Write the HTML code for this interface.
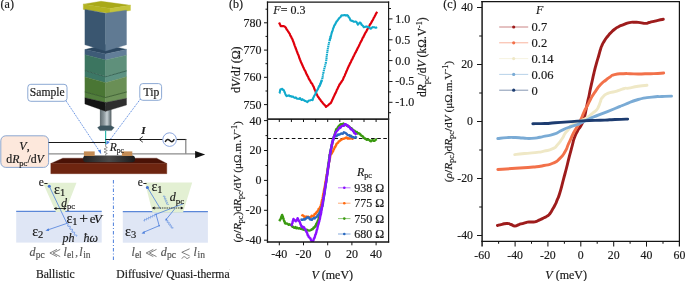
<!DOCTYPE html><html><head><meta charset="utf-8"><style>
html,body{margin:0;padding:0;background:#fff;width:685px;height:281px;overflow:hidden}
svg{display:block;will-change:transform}
text{font-family:"Liberation Serif",serif;fill:#1a1a1a;stroke:#1a1a1a;stroke-width:0.18px}
.t{font-size:12px}
.tc{font-size:11.8px}
.lc{font-size:12.5px}
.i{font-style:italic}
</style></head><body>
<svg width="685" height="281" viewBox="0 0 685 281">

<text x="0.6" y="8.1" style="font-size:12px">(a)</text>
<polygon points="83.3,4.2 101.0,1.3 130.5,5.3 110.0,8.6" fill="#a9a919" stroke="#a9a919" stroke-width="0.35" />
<polygon points="83.3,4.2 110.0,8.6 110.0,13.6 83.3,9.4" fill="#b4b422" stroke="#b4b422" stroke-width="0.35" />
<polygon points="110.0,8.6 130.5,5.3 130.5,10.4 110.0,13.6" fill="#c4c43a" stroke="#c4c43a" stroke-width="0.35" />
<polygon points="84.9,49.6 105.6,44.5 126.5,49.4 105.6,53.9" fill="#2c4761" stroke="#2c4761" stroke-width="0.35" />
<polygon points="84.9,9.4 105.6,13.2 105.6,50.9 84.9,44.8" fill="#3a5670" stroke="#3a5670" stroke-width="0.35" />
<polygon points="105.6,13.2 126.5,10.2 126.5,44.8 105.6,50.9" fill="#607a93" stroke="#607a93" stroke-width="0.35" />
<polygon points="84.9,49.6 105.6,53.9 105.6,60.0 84.9,54.8" fill="#3e5b77" stroke="#3e5b77" stroke-width="0.35" />
<polygon points="105.6,53.9 126.5,49.4 126.5,55.2 105.6,60.0" fill="#627e98" stroke="#627e98" stroke-width="0.35" />
<polygon points="84.9,54.8 105.6,60.0 105.6,76.3 84.9,70.4" fill="#3c7560" stroke="#3c7560" stroke-width="0.35" />
<polygon points="105.6,60.0 126.5,55.2 126.5,70.9 105.6,76.3" fill="#5f907b" stroke="#5f907b" stroke-width="0.35" />
<polygon points="84.9,70.7 105.6,76.8 105.6,82.7 84.9,76.9" fill="#3c7766" stroke="#3c7766" stroke-width="0.35" />
<polygon points="105.6,76.8 126.5,71.0 126.5,76.8 105.6,82.7" fill="#5d9282" stroke="#5d9282" stroke-width="0.35" />
<polygon points="84.9,76.9 105.6,82.7 105.6,97.6 84.9,92.0" fill="#4a7634" stroke="#4a7634" stroke-width="0.35" />
<polygon points="105.6,82.7 126.5,76.8 126.5,92.0 105.6,97.6" fill="#6a8f56" stroke="#6a8f56" stroke-width="0.35" />
<polygon points="84.9,92.0 105.6,97.6 105.6,102.5 84.9,97.8" fill="#527e3c" stroke="#527e3c" stroke-width="0.35" />
<polygon points="105.6,97.6 126.5,92.0 126.5,98.3 105.6,102.5" fill="#6e9359" stroke="#6e9359" stroke-width="0.35" />
<polyline points="84.9,70.6 105.6,76.7 126.5,70.9" fill="none" stroke="#285645" stroke-width="0.8"/>
<polyline points="84.9,92.0 105.6,97.5 126.5,92.0" fill="none" stroke="#34552a" stroke-width="0.8"/>
<defs><linearGradient id="cyl" x1="0" x2="1" y1="0" y2="0">
<stop offset="0" stop-color="#5f6b70"/><stop offset="0.35" stop-color="#8b979c"/><stop offset="0.62" stop-color="#c9d2d6"/><stop offset="0.8" stop-color="#8e9a9f"/><stop offset="1" stop-color="#4d585c"/></linearGradient></defs>
<rect x="99.9" y="106" width="11.5" height="21.5" fill="url(#cyl)"/>
<polygon points="84.9,97.8 105.6,102.5 105.6,111.3 84.9,103.9" fill="#141414" stroke="#141414" stroke-width="0.35" />
<polygon points="105.6,102.5 126.5,98.3 126.5,105.0 105.6,111.3" fill="#2e2e2e" stroke="#2e2e2e" stroke-width="0.35" />
<polygon points="97.6,127.5 100.5,125.8 111.0,125.8 114.2,127.5 111.5,130.6 100.0,130.6" fill="#3e5660" stroke="#3e5660" stroke-width="0.35" />
<line x1="105.6" y1="130.5" x2="105.6" y2="144" stroke="#2fb7aa" stroke-width="1.2"/>
<rect x="27.8" y="84.3" width="39.2" height="17" rx="3" fill="#fff" stroke="#7f9fcf" stroke-width="0.9"/>
<text x="29.8" y="96" style="font-size:11.6px">Sample</text>
<rect x="139.8" y="83.6" width="21.8" height="16.7" rx="3" fill="#fff" stroke="#7f9fcf" stroke-width="0.9"/>
<text x="143.6" y="95.6" style="font-size:11.6px">Tip</text>
<line x1="66" y1="100.8" x2="99.6" y2="151.4" stroke="#4c7fdc" stroke-width="0.9" stroke-dasharray="1.2 0.9"/>
<polygon points="101.2,154.2 97.8,150.4 100.8,149.4" fill="#4c7fdc"/>
<line x1="140.2" y1="99.3" x2="107.6" y2="143" stroke="#4c7fdc" stroke-width="0.9" stroke-dasharray="1.2 0.9"/>
<polygon points="106.2,144.8 106.6,140.6 109.6,142.6" fill="#4c7fdc"/>
<rect x="0.8" y="135.8" width="47.8" height="31.6" rx="5" fill="#fde8dc" stroke="#7f9fcf" stroke-width="0.9"/>
<text x="24.5" y="150" text-anchor="middle" class="i" style="font-size:12px">V<tspan class="" style="font-style:normal">,</tspan></text>
<text x="25" y="163" text-anchor="middle" style="font-size:11.8px">d<tspan class="i">R</tspan><tspan style="font-size:8.5px" dy="2.5">pc</tspan><tspan dy="-2.5">/d</tspan><tspan class="i">V</tspan></text>
<line x1="48.6" y1="142.5" x2="105.5" y2="142.5" stroke="#1a1a1a" stroke-width="1.1"/>
<line x1="105.5" y1="139.5" x2="162.8" y2="139.5" stroke="#1a1a1a" stroke-width="1.1"/>
<line x1="176.4" y1="139.5" x2="186.4" y2="139.5" stroke="#1a1a1a" stroke-width="1.1"/>
<line x1="185.8" y1="139.5" x2="185.8" y2="154" stroke="#808080" stroke-width="1.2"/>
<line x1="48.6" y1="153.9" x2="84.5" y2="153.9" stroke="#8c8c8c" stroke-width="1.4"/>
<line x1="131.5" y1="153.9" x2="196" y2="153.9" stroke="#8c8c8c" stroke-width="1.4"/>
<polygon points="195.1,151.1 205.2,154.6 195.1,158.2" fill="#111"/>
<polyline points="142.8,136.6 139.2,139.4 142.8,142.2" fill="none" stroke="#222" stroke-width="0.9"/>
<text x="141.2" y="134.2" class="i" style="font-size:11.2px;font-weight:bold">I</text>
<circle cx="169.6" cy="139.6" r="6.8" fill="#fff" stroke="#6d8fd6" stroke-width="0.8"/>
<path d="M165.2,142 C166.6,138.8 168.4,139.1 169.8,140.6 C171.2,142.1 172.9,142.3 174.3,139.3" fill="none" stroke="#1a1a1a" stroke-width="1.5"/>
<polygon points="50.8,163.5 62.8,158.2 156.6,158.2 166.8,163.5" fill="#4a1206" stroke="#4a1206" stroke-width="0.35" />
<polygon points="50.8,163.5 166.8,163.5 166.8,173.7 50.8,173.7" fill="#6e2510" stroke="#6e2510" stroke-width="0.35" />
<defs><linearGradient id="disk" x1="0" x2="1" y1="0" y2="0">
<stop offset="0" stop-color="#222"/><stop offset="0.5" stop-color="#4a4a4a"/><stop offset="1" stop-color="#1c1c1c"/></linearGradient></defs>
<rect x="83.1" y="155.5" width="51.9" height="6.8" rx="3" fill="url(#disk)"/>
<rect x="83.9" y="151.4" width="10.8" height="4.6" fill="#c48c55"/>
<rect x="121.9" y="151.4" width="10.4" height="4.6" fill="#c48c55"/>
<polyline points="105.6,144 105.6,146.5 107.3,147.5 104,149 107.3,150.5 104,152 107.3,153.5 105.6,154.2 105.6,155.5" fill="none" stroke="#555" stroke-width="0.6"/>
<text x="109.8" y="150.6" class="i" style="font-size:11.5px">R<tspan style="font-style:normal;font-size:7.5px" dy="2.8">pc</tspan></text>
<rect x="16.2" y="211.2" width="85.5" height="31.4" fill="#dfe6f5"/>
<line x1="16.2" y1="211.3" x2="101.7" y2="211.3" stroke="#5b87d8" stroke-width="1.2"/>
<polygon points="42.9,182.8 76.5,182.8 65.1,212.1 55.9,212.1" fill="#e3f0d3"/>
<circle cx="49.3" cy="186.3" r="1.5" fill="#3f6fd0"/>
<polyline points="49.3,186.3 66.9,223.4" fill="none" stroke="#4c7fdc" stroke-width="0.8"/>
<line x1="66.9" y1="223.4" x2="47" y2="230.2" stroke="#4c7fdc" stroke-width="0.8"/>
<polygon points="45.4,230.8 48.6,228.2 49.2,231" fill="#4c7fdc"/>
<polyline points="66.9,223.4 67.9,223.4 68.3,223.8 68.0,224.7 67.6,225.7 67.9,226.3 68.8,226.3 69.9,226.3 70.4,226.6 70.2,227.4 69.8,228.5 69.9,229.1 70.7,229.3 71.8,229.2 72.5,229.3 72.5,230.1 72.0,231.1 71.9,231.9 72.6,232.2 73.7,232.1 74.5,232.2 74.7,232.8 74.3,233.8 74.0,234.7 74.5,235.1 75.6,235.0 76.5,235.0 76.8,235.5 76.5,236.5" fill="none" stroke="#4c7fdc" stroke-width="0.7"/>
<line x1="54.5" y1="208.5" x2="65.8" y2="208.5" stroke="#111" stroke-width="0.8"/>
<polygon points="53.8,208.5 56.5,206.9 56.5,210.1" fill="#111"/><polygon points="66.5,208.5 63.8,206.9 63.8,210.1" fill="#111"/>
<text x="38.8" y="186" style="font-size:11.5px">e-</text>
<text x="54.1" y="193.8" style="font-size:14px">ε<tspan style="font-size:10.5px" dy="2.2">1</tspan></text>
<text x="61.3" y="206.5" class="i" style="font-size:11.5px">d<tspan style="font-style:normal;font-size:8.5px" dy="2">pc</tspan></text>
<text x="66.4" y="222.9" style="font-size:14px;fill:#111">ε<tspan style="font-size:10.5px" dy="1.8">1</tspan><tspan dy="-1.8" x="79.3" style="font-size:15.5px">+</tspan><tspan x="89.8" style="font-size:13px">e</tspan><tspan x="94" class="i" style="font-size:13px">V</tspan></text>
<text x="32.2" y="235.5" style="font-size:14px">ε<tspan style="font-size:10.5px" dy="2.2">2</tspan></text>
<text x="62.6" y="241.5" class="i" style="font-size:12px">ph</text>
<text x="83.4" y="241.5" class="i" style="font-size:12px">ħω</text>
<g style="fill:#555;stroke:#555"><text x="29.6" y="255.8" class="i" style="font-size:12px;fill:#555;stroke:#555">d</text><text x="35.7" y="258" style="font-size:9.5px;fill:#555;stroke:#555">pc</text><text x="63.4" y="255.8" class="i" style="font-size:12px;fill:#555;stroke:#555">l</text><text x="67" y="258" style="font-size:9.5px;fill:#555;stroke:#555">el</text><text x="75.3" y="256" style="font-size:11px;fill:#555;stroke:#555">,</text><text x="79.3" y="255.8" class="i" style="font-size:12px;fill:#555;stroke:#555">l</text><text x="83.2" y="258" style="font-size:9.5px;fill:#555;stroke:#555">in</text></g>
<path d="M57,249.4 L49.9,253 L57,256.6 M60.2,249.4 L53.1,253 L60.2,256.6" fill="none" stroke="#555" stroke-width="0.75"/>
<text x="36" y="277.9" style="font-size:12.4px" textLength="38.6" lengthAdjust="spacingAndGlyphs">Ballistic</text>
<line x1="113.4" y1="180" x2="113.4" y2="260" stroke="#4c7fdc" stroke-width="1" stroke-dasharray="3.5 2 1 2"/>
<rect x="122.8" y="211.5" width="85.1" height="31.2" fill="#dfe6f5"/>
<line x1="122.8" y1="211.6" x2="207.9" y2="211.6" stroke="#5b87d8" stroke-width="1.2"/>
<polygon points="145,182.5 192.2,182.5 183,212.4 152.5,212.4" fill="#e3f0d3"/>
<circle cx="147.4" cy="187.5" r="1.5" fill="#3f6fd0"/>
<polyline points="147.4,187.4 160.5,209" fill="none" stroke="#4c7fdc" stroke-width="0.8"/>
<polyline points="183.4,203.7 156,214.3 159.2,225.7 142.8,232.6" fill="none" stroke="#4c7fdc" stroke-width="0.8"/>
<polygon points="141.5,233.6 144.4,231 145,233.8" fill="#4c7fdc"/>
<polyline points="175,208.5 166.3,219.3" fill="none" stroke="#4c7fdc" stroke-width="0.8"/>
<circle cx="166.3" cy="219.3" r="0.9" fill="#4c7fdc"/><circle cx="156" cy="214.3" r="0.8" fill="#4c7fdc"/><circle cx="159.2" cy="225.7" r="0.8" fill="#4c7fdc"/>
<polyline points="143.5,220.6 144.1,221.1 144.5,221.1 144.5,220.4 144.5,219.5 144.6,219.0 145.1,219.2 145.7,219.8 146.3,220.2 146.5,219.9 146.5,219.1 146.5,218.3 146.7,218.0 147.3,218.4 148.0,219.0 148.4,219.2 148.6,218.7 148.5,217.8 148.6,217.1 148.9,217.1 149.6,217.6 150.2,218.1 150.5,218.1 150.6,217.4 150.5,216.5 150.7,216.0 151.1,216.2 151.8,216.8 152.4,217.2 152.6,216.9 152.6,216.1 152.6,215.3 152.8,215.0 153.4,215.4 154.0,216.0 154.5,216.2 154.6,215.7 154.6,214.8 154.6,214.1 155.0,214.1 155.6,214.6" fill="none" stroke="#4c7fdc" stroke-width="0.6"/>
<polyline points="166.3,219.8 165.9,220.4 165.9,220.8 166.3,220.8 166.9,220.7 167.6,220.5 168.0,220.6 167.9,221.0 167.6,221.6 167.2,222.2 167.2,222.5 167.5,222.6 168.2,222.4 168.9,222.3 169.3,222.4 169.2,222.7 168.9,223.3 168.5,223.9 168.5,224.3 168.8,224.4 169.5,224.2 170.2,224.0 170.5,224.1 170.5,224.5 170.1,225.1 169.8,225.7 169.7,226.0 170.1,226.1 170.8,226.0 171.5,225.8 171.8,225.9 171.8,226.2 171.4,226.8 171.1,227.4 171.0,227.8 171.4,227.9 172.1,227.7 172.7,227.6 173.1,227.6 173.1,228.0 172.7,228.6" fill="none" stroke="#4c7fdc" stroke-width="0.6"/>
<polyline points="163.8,195.5 163.3,196.0 163.2,196.3 163.5,196.5 164.2,196.4 164.9,196.4 165.2,196.6 165.1,196.9 164.6,197.4 164.1,197.9 164.0,198.2 164.3,198.4 165.0,198.3 165.7,198.3 166.0,198.5 165.9,198.8 165.4,199.3 164.9,199.8 164.8,200.1 165.1,200.3 165.8,200.2 166.5,200.2 166.8,200.4 166.7,200.7 166.2,201.2 165.7,201.7 165.6,202.0 165.9,202.2 166.6,202.2 167.3,202.1 167.6,202.3 167.5,202.6 167.0,203.1 166.5,203.6 166.4,203.9 166.7,204.1 167.4,204.1 168.1,204.0 168.4,204.2 168.3,204.5 167.8,205.0" fill="none" stroke="#4c7fdc" stroke-width="0.6"/>
<line x1="152.7" y1="208" x2="182.8" y2="208" stroke="#111" stroke-width="0.8" stroke-dasharray="1.5 0.8"/>
<polygon points="152,208 154.7,206.4 154.7,209.6" fill="#111"/><polygon points="183.5,208 180.8,206.4 180.8,209.6" fill="#111"/>
<text x="137.8" y="186.3" style="font-size:11.5px">e-</text>
<text x="151.4" y="190.5" style="font-size:14px">ε<tspan style="font-size:10.5px" dy="2.2">1</tspan></text>
<text x="169.8" y="201.4" class="i" style="font-size:12px">d<tspan style="font-style:normal;font-size:9px" dy="2.5">pc</tspan></text>
<text x="125.1" y="235.5" style="font-size:14px">ε<tspan style="font-size:10.5px" dy="2.2">3</tspan></text>
<text x="131.4" y="255.8" class="i" style="font-size:12px;fill:#555;stroke:#555">l</text><text x="134.9" y="258" style="font-size:9.5px;fill:#555;stroke:#555">el</text><text x="160.8" y="255.8" class="i" style="font-size:12px;fill:#555;stroke:#555">d</text><text x="166.9" y="258" style="font-size:9.5px;fill:#555;stroke:#555">pc</text><text x="193.6" y="255.8" class="i" style="font-size:12px;fill:#555;stroke:#555">l</text><text x="197.5" y="258" style="font-size:9.5px;fill:#555;stroke:#555">in</text>
<path d="M153.3,249.4 L146.2,253 L153.3,256.6 M156.5,249.4 L149.4,253 L156.5,256.6" fill="none" stroke="#555" stroke-width="0.75"/>
<path d="M189.6,248.8 L181.8,252.3 L189.6,255.8 M181.8,258.6 C183.2,256.2 185.2,256.4 185.8,257.6 C186.5,258.8 188.3,259 189.6,256.8" fill="none" stroke="#555" stroke-width="0.75"/>
<svg x="0" y="0" width="230" height="281" overflow="hidden"><text x="116.3" y="278.2" style="font-size:12.4px" textLength="116.5" lengthAdjust="spacingAndGlyphs">Diffusive/ Quasi-thermal</text></svg>
<text x="229" y="8.1" style="font-size:12px">(b)</text>
<defs><clipPath id="cbt"><rect x="267.4" y="2" width="121.6" height="117"/></clipPath><clipPath id="cbb"><rect x="267.4" y="119" width="121.6" height="123"/></clipPath></defs>
<g clip-path="url(#cbt)"><polyline points="279.1,22.5 279.6,23.8 280.2,24.8 280.7,26.1 281.8,26.2 282.8,26.0 283.8,26.1 284.9,26.7 285.5,27.3 286.1,28.2 286.7,29.5 287.4,30.2 288.0,31.3 288.6,32.1 289.2,33.1 289.7,33.7 290.1,34.9 290.6,35.9 291.0,36.6 291.5,37.6 291.9,38.5 292.4,39.1 292.8,40.4 293.1,41.3 293.5,42.1 293.8,42.9 294.2,44.3 294.5,45.0 294.9,46.1 295.3,47.1 295.6,48.0 296.0,49.1 296.3,49.7 296.7,50.9 297.1,51.7 297.4,52.9 297.8,53.8 298.1,54.4 298.5,55.3 298.9,56.3 299.2,57.7 299.6,58.4 299.9,59.4 300.3,60.2 300.6,61.2 301.0,62.1 301.4,63.1 301.9,64.1 302.3,65.1 302.8,66.1 303.2,67.0 303.7,68.0 304.1,68.9 304.6,69.9 305.0,70.7 305.5,71.4 305.9,72.7 306.4,73.7 306.8,74.6 307.3,75.4 307.7,76.4 308.2,77.0 308.6,78.3 309.1,79.1 309.5,79.9 310.1,80.7 310.8,82.1 311.4,83.1 312.1,83.6 312.7,85.0 313.1,85.8 313.6,86.6 314.0,87.7 314.4,89.0 314.9,90.0 315.3,90.6 315.7,91.9 316.1,92.7 316.6,94.0 317.0,94.8 317.6,96.0 318.1,96.9 318.7,97.5 319.3,98.6 319.9,99.2 320.4,99.9 321.0,101.0 321.7,101.6 322.4,102.5 323.1,103.4 323.9,104.3 324.6,104.9 325.3,105.7 326.0,106.9 326.8,106.0 327.6,105.7 328.4,105.0 329.2,104.2 330.0,103.6 330.8,103.0 331.2,102.2 331.7,101.2 332.1,100.3 332.5,99.4 332.9,98.7 333.4,97.5 333.8,96.6 334.2,95.8 334.7,94.7 335.1,93.8 335.5,93.2 336.0,92.1 336.4,91.2 336.8,90.0 337.2,89.3 337.7,88.5 338.1,87.3 338.5,86.7 339.0,85.8 339.4,84.6 340.1,83.9 340.7,82.9 341.4,82.0 342.0,80.9 342.7,80.1 343.1,79.1 343.6,77.8 344.0,76.9 344.4,76.2 344.8,75.4 345.3,74.0 345.7,73.2 346.1,72.3 346.5,71.2 347.0,70.2 347.4,69.2 347.8,68.3 348.2,67.4 348.7,66.3 349.1,65.3 349.6,64.6 350.0,63.3 350.5,62.7 350.9,61.9 351.4,60.7 351.8,59.8 352.3,59.2 352.8,58.0 353.2,57.0 353.7,56.2 354.1,55.4 354.6,54.2 355.0,53.4 355.5,52.5 356.0,51.8 356.4,50.7 356.9,50.0 357.4,48.7 357.8,47.9 358.3,47.1 358.7,46.3 359.2,45.2 359.7,44.1 360.1,43.1 360.6,42.4 361.1,41.3 361.5,40.7 362.0,39.8 362.4,38.5 362.9,37.7 363.4,37.0 363.8,36.0 364.3,35.2 364.8,34.0 365.3,33.0 365.8,32.2 366.3,31.6 366.8,30.4 367.3,29.6 367.7,28.7 368.2,27.9 368.7,27.0 369.2,26.3 369.7,25.1 370.2,24.1 370.7,23.7 371.2,22.8 371.7,21.9 372.2,20.8 372.7,20.1 373.2,19.2 373.7,18.0 374.1,17.4 374.6,16.5 375.1,15.5 375.6,14.6 376.1,13.6 376.6,12.7 377.1,11.8" fill="none" stroke="#e0000c" stroke-width="2.2" stroke-linejoin="round"/>
<polyline points="279.4,93.4 279.6,93.2 279.8,92.0 279.9,91.8 280.1,90.1 280.3,90.3 280.5,89.2 281.4,89.2 282.3,88.8 282.8,89.6 283.4,90.1 283.9,90.3 284.4,92.0 284.7,92.1 285.0,93.0 285.4,94.2 285.7,94.8 286.0,95.4 286.8,96.1 287.6,95.8 288.4,95.5 289.2,95.4 290.0,96.2 290.8,96.1 291.5,96.7 292.2,96.5 293.0,96.6 293.9,97.3 294.9,97.9 295.8,97.4 296.7,98.5 297.5,98.8 298.4,98.8 299.2,98.9 300.0,98.1 300.8,99.2 301.6,99.9 302.4,99.2 303.2,99.9 304.0,100.2 304.9,100.9 305.7,101.1 306.5,101.5 307.4,102.2 308.3,100.9 309.1,100.6 310.0,100.4 311.1,100.1 312.2,99.8 312.6,100.1 312.9,99.2 313.3,97.6 313.7,97.3 314.0,96.3 314.4,95.6 314.8,94.9 315.2,94.5 315.5,93.7 315.9,92.6 316.3,91.7 316.7,91.1 317.1,90.2 317.4,90.0 317.8,89.4 318.2,88.3 318.6,87.2 319.0,86.6 319.3,86.1 319.6,85.6 320.0,85.0 320.3,83.7 320.6,83.5 320.9,82.5 321.3,81.5 321.6,80.6 321.9,80.0" fill="none" stroke="#11aacc" stroke-width="2.1" stroke-linejoin="round"/>
<path d="M319.0,87.0 C320.0,84.7 320.4,85.0 321.9,80.0 C323.4,75.0 322.2,77.9 323.5,72.0 C324.8,66.1 324.7,68.2 325.9,62.2 C327.1,56.2 326.2,59.3 327.0,54.0 C327.8,48.7 327.5,50.5 328.3,46.2 C329.1,41.9 328.6,44.6 329.5,41.0 C330.4,37.4 330.5,37.3 331.0,35.5" fill="none" stroke="#11aacc" stroke-width="2.1" stroke-dasharray="1.5 0.55"/>
<polyline points="329.7,40.5 329.9,39.0 330.1,38.9 330.4,38.4 330.6,36.5 330.8,36.1 331.0,35.6 331.2,35.1 331.5,33.6 331.8,32.7 332.0,31.9 332.2,31.6 332.5,30.9 332.8,29.7 333.0,28.8 333.3,28.1 333.7,27.2 334.0,26.5 334.3,25.3 334.7,25.0 335.0,24.8 335.5,23.3 336.0,22.9 336.5,21.4 337.0,21.2 337.5,20.5 338.1,19.7 338.7,18.8 339.3,18.0 339.9,17.5 340.5,17.1 341.2,15.7 342.0,15.2 342.8,15.5 343.5,15.3 344.3,15.0 345.2,15.1 346.0,15.6 346.9,15.1 347.7,15.4 348.2,16.0 348.6,17.2 349.1,17.5 349.6,18.1 350.1,19.4 350.5,20.4 351.0,20.3 351.9,21.0 352.8,20.9 353.6,21.7 354.5,21.7 355.4,21.6 356.3,21.8 356.8,22.4 357.4,23.8 357.9,24.6 358.6,23.6 359.3,23.1 360.0,22.4 360.5,23.5 361.1,23.4 361.6,25.0 362.2,25.0 362.7,25.8 363.3,26.2 363.8,27.3 364.6,27.1 365.4,26.7 366.2,26.4 367.0,26.6 367.8,27.2 368.7,27.1 369.5,27.9 370.4,28.6 371.2,28.5 371.9,27.6 372.7,27.1 373.4,27.2 374.3,27.2 375.2,27.7 376.2,27.7 377.1,27.1" fill="none" stroke="#11aacc" stroke-width="2.1" stroke-linejoin="round"/></g>
<line x1="267.4" y1="138.5" x2="389" y2="138.5" stroke="#111" stroke-width="1.1" stroke-dasharray="3.6 2.5"/>
<g clip-path="url(#cbb)">
<polyline points="279.3,221.3 279.6,220.7 279.9,219.8 280.2,219.7 280.5,219.2 280.9,218.5 281.2,216.9 281.5,216.9 281.8,215.5 282.1,214.9 282.4,216.0 282.6,216.0 282.9,216.8 283.2,218.5 283.5,218.6 283.7,219.5 284.0,220.5 284.3,221.4 284.6,221.4 284.8,222.5 285.1,223.4 286.0,223.7 286.9,223.5 287.8,224.1 288.7,224.8 289.6,224.3 290.3,225.0 291.0,225.0 291.8,225.7 292.5,226.8 293.2,226.6 294.0,227.7 294.8,227.9 295.6,227.1 296.4,228.2 297.2,227.7 298.1,228.4 298.9,228.5 299.7,228.1 300.5,228.7 301.3,228.8 302.1,229.2 302.9,228.7 303.7,229.6 304.4,230.0 305.2,229.9 306.0,230.0 306.8,229.7 307.5,230.4 308.3,230.4 309.2,230.6 310.1,230.4 311.0,230.0 311.9,229.3 312.5,229.3 313.1,228.7 313.6,227.6 314.2,227.8 314.8,227.0 315.4,225.7 315.8,225.9 316.1,224.2 316.5,223.6 316.8,223.3 317.2,222.3 317.6,221.5 317.9,220.8 318.3,219.7 318.6,218.8 319.0,217.8 319.2,216.9 319.4,216.8 319.6,216.0 319.8,215.0 320.0,214.4 320.2,213.1 320.5,212.2 320.7,211.5 320.9,211.2 321.1,209.4 321.3,209.2 321.5,208.0 321.7,207.8 321.9,206.5 322.0,205.6 322.2,204.9 322.3,204.2 322.5,203.7 322.6,202.3 322.8,202.1 322.9,200.4 323.1,199.7 323.2,198.7 323.4,197.9 323.5,197.8 323.7,196.9 323.8,195.5 324.0,194.6 324.1,194.1 324.2,193.7 324.4,193.0 324.5,192.1 324.6,191.1 324.7,189.8 324.8,189.3 325.0,188.2 325.1,187.8 325.2,187.1 325.3,185.8 325.4,185.1 325.6,184.9 325.7,183.2 325.8,183.4 325.9,182.7 326.0,181.9 326.2,180.5 326.3,179.9 326.4,179.1 326.5,178.4 326.6,178.0 326.8,176.8 326.9,175.6 327.0,175.4 327.1,174.2 327.2,173.5 327.3,172.9 327.4,171.2 327.5,171.3 327.6,170.4 327.7,169.4 327.8,168.6 327.9,167.8 328.0,166.6 328.1,166.2 328.2,164.8 328.4,164.6 328.5,164.0 328.6,162.9 328.7,162.3 328.8,162.0 328.9,161.1 329.0,159.4 329.1,159.4 329.2,158.3 329.3,156.9 329.4,156.4 329.5,155.5 329.6,154.5 329.8,154.3 330.0,153.9 330.1,152.4 330.3,152.3 330.5,151.3 330.7,149.8 330.9,149.9 331.0,148.8 331.2,148.4 331.4,147.4 331.6,146.6 331.7,145.3 331.9,145.1 332.1,144.5 332.3,143.6 332.5,142.3 332.6,141.9 332.8,140.8 333.0,139.5 333.2,138.7 333.5,138.0 333.7,137.3 333.9,136.5 334.2,136.2 334.4,135.6 334.6,134.7 334.8,133.8 335.1,133.3 335.3,132.1 335.5,131.5 335.8,131.1 336.0,129.9 336.5,128.9 337.0,129.1 337.5,128.2 338.0,127.1 338.5,126.4 339.0,125.9 339.5,125.3 340.3,124.6 341.1,124.1 341.8,124.1 342.6,124.5 343.4,123.5 344.1,124.2 344.8,124.3 345.5,124.7 346.2,125.1 346.9,125.7 347.6,125.8 348.3,126.0 349.0,126.5 349.7,127.1 350.4,128.1 351.1,128.1 351.8,128.6 352.5,129.6 353.2,130.1 353.9,131.0 354.6,130.7 355.3,131.7 356.1,132.1 356.9,132.0 357.6,133.6 358.4,133.1 359.2,133.3 359.9,134.3 360.5,134.5 361.2,135.7 361.9,135.9 362.5,136.2 363.2,136.7 363.8,138.1 364.5,138.1 365.3,139.1 366.1,139.0 366.9,139.9 367.8,139.5 368.6,139.7 369.4,140.1 370.2,141.1 371.0,141.2 371.9,140.6 372.7,140.1 373.6,140.7 374.4,140.8 375.3,140.2 376.1,139.3 377.0,139.1" fill="none" stroke="#3a9a10" stroke-width="2.4" stroke-linejoin="round"/>
<polyline points="301.4,214.8 302.2,215.3 303.0,215.4 303.7,215.9 304.5,217.1 305.2,217.8 306.1,216.5 307.0,217.1 308.0,216.6 308.9,217.2 309.9,217.5 310.8,217.2 311.6,215.8 312.5,215.9 313.4,215.9 314.0,215.8 314.6,214.1 315.1,213.8 315.7,213.9 316.3,212.4 316.9,212.2 317.3,211.4 317.8,211.0 318.2,210.6 318.6,209.0 319.1,208.9 319.5,208.2 319.9,207.6 320.4,206.5 320.8,206.2 321.0,204.7 321.2,204.0 321.4,203.0 321.6,202.9 321.7,201.7 321.9,200.7 322.1,199.8 322.3,199.7 322.5,198.7 322.6,198.1 322.8,196.9 322.9,196.2 323.1,195.0 323.2,194.9 323.4,193.2 323.5,193.0 323.7,192.5 323.8,191.6 324.0,190.1 324.1,189.5 324.3,189.4 324.4,188.4 324.6,187.9 324.7,187.0 324.9,185.7 325.0,185.5 325.1,184.5 325.3,183.2 325.4,182.4 325.6,181.2 325.7,180.8 325.9,180.7 326.0,178.9 326.1,178.6 326.3,177.2 326.4,176.4 326.6,176.3 326.7,175.0 326.9,173.9 327.0,173.2 327.1,173.0 327.3,172.2 327.4,170.7 327.6,170.1 327.7,170.2 327.9,168.5 328.0,168.1 328.2,167.1 328.3,166.7 328.5,165.7 328.6,165.1 328.8,164.0 328.9,162.8 329.1,161.9 329.2,161.0 329.4,161.1 329.6,159.4 329.7,158.5 329.9,158.8 330.0,157.1 330.2,157.1 330.3,155.3 330.5,155.0 331.1,153.9 331.6,153.9 332.0,152.9 332.4,152.2 332.8,151.6 333.2,150.9 333.6,149.5 334.0,149.1 334.4,148.2 334.8,147.0 335.2,147.1 335.6,146.1 336.0,145.6 336.4,144.1 336.8,143.7 337.5,143.1 338.1,142.8 338.8,141.4 339.5,141.2 340.1,140.7 340.8,139.7 341.4,139.7 342.1,139.3 343.0,138.6 343.9,138.7 344.9,138.3 345.8,137.6 346.7,137.5 347.5,138.6 348.4,138.2 349.2,138.6 350.0,138.5 350.8,138.4 351.6,138.1 352.4,138.7 353.2,138.2 354.0,138.1" fill="none" stroke="#ff6a10" stroke-width="2.4" stroke-linejoin="round"/>
<polyline points="300.6,220.0 301.5,219.5 302.3,219.9 303.1,219.4 304.0,219.3 304.7,219.5 305.3,219.0 306.0,218.5 307.1,217.5 308.1,217.3 308.8,217.5 309.6,218.9 310.3,219.5 311.0,219.4 311.9,219.8 312.8,218.5 313.7,218.1 314.6,218.5 315.4,217.4 316.2,217.1 317.0,216.7 317.6,215.2 318.1,215.3 318.6,214.0 319.2,213.4 319.5,212.5 319.9,212.2 320.2,211.5 320.5,210.1 320.9,209.1 321.2,208.6 321.5,207.9 321.8,206.8 322.2,206.1 322.5,206.0 322.6,205.1 322.8,204.6 322.9,203.8 323.0,202.8 323.2,201.4 323.3,200.3 323.4,199.7 323.6,199.0 323.7,198.3 323.8,197.5 323.9,196.4 324.1,196.2 324.2,194.7 324.3,194.1 324.5,193.8 324.6,192.8 324.7,191.4 324.9,190.5 325.0,190.4 325.1,188.6 325.2,187.9 325.3,187.6 325.5,186.8 325.6,185.5 325.7,184.6 325.8,183.9 325.9,183.8 326.0,182.6 326.1,182.4 326.2,181.3 326.4,180.8 326.5,178.8 326.6,178.2 326.7,177.1 326.8,176.8 326.9,175.9 327.0,174.7 327.2,174.5 327.3,173.1 327.4,172.6 327.5,171.7 327.6,171.6 327.7,170.3 327.9,169.3 328.0,168.2 328.1,167.9 328.2,167.3 328.3,166.5 328.5,166.0 328.6,165.1 328.7,163.6 328.8,162.7 328.9,162.6 329.0,161.8 329.2,160.7 329.3,160.3 329.4,159.1 329.5,158.0 329.6,157.0 329.8,156.0 329.9,156.0 330.0,155.5 330.1,154.7 330.3,153.4 330.4,152.8 330.5,152.3 330.7,151.4 330.8,150.3 330.9,149.3 331.1,148.6 331.2,147.4 331.3,146.6 331.5,146.4 331.6,146.0 331.7,144.7 331.9,143.7 332.0,142.8 332.3,142.1 332.6,141.7 332.8,140.5 333.1,140.3 333.4,138.5 333.6,137.8 333.9,137.3 334.2,136.3 335.0,136.5 335.7,136.2 336.5,136.1 337.2,135.4 338.0,134.4 338.7,134.8 339.5,134.5 340.4,134.1 341.2,133.5 342.1,133.7 343.0,133.6 343.8,132.3 344.7,132.7 345.5,132.9 346.3,133.6 347.1,134.5 347.9,135.1 348.7,135.3 349.5,135.1 350.2,136.3 351.0,135.8 351.7,136.4 352.5,137.4 353.2,137.1 354.0,137.4 354.9,137.8 355.7,137.4 356.6,136.2" fill="none" stroke="#2a6ac0" stroke-width="2.4" stroke-linejoin="round"/>
<polyline points="291.4,226.1 291.7,225.1 291.9,224.1 292.2,223.4 292.4,223.4 292.7,221.4 293.0,220.8 293.2,219.9 293.5,218.9 294.3,219.9 295.0,220.6 295.8,221.2 296.4,220.3 297.0,219.8 297.6,218.2 298.1,219.3 298.6,220.8 299.1,220.5 299.6,221.4 299.9,222.5 300.2,223.1 300.5,224.3 300.8,224.6 301.1,225.7 301.8,226.9 302.5,226.4 303.3,227.7 304.0,227.2 304.7,228.6 305.1,229.0 305.4,229.8 305.8,230.0 306.1,230.7 306.5,232.3 306.9,232.4 307.2,233.2 307.6,234.8 307.9,235.6 308.3,235.5 308.8,237.2 309.3,237.4 309.8,237.9 310.3,238.3 310.7,239.3 311.2,240.7 311.7,240.6 312.2,241.1 312.7,241.8 313.0,241.0 313.3,240.5 313.5,240.4 313.8,238.7 314.1,238.1 314.4,238.2 314.6,237.5 314.9,236.7 315.2,235.1 315.5,234.5 315.7,234.4 316.0,233.1 316.3,232.6 316.5,231.4 316.7,230.2 316.9,229.8 317.1,229.5 317.3,228.7 317.5,227.6 317.7,226.7 317.9,226.0 318.1,225.0 318.3,224.4 318.6,223.9 318.8,222.3 319.0,222.0 319.2,221.6 319.4,220.7 319.6,219.1 319.8,219.2 320.0,218.2 320.2,216.6 320.4,215.9 320.6,215.1 320.8,214.1 320.9,214.4 321.1,212.9 321.2,212.6 321.3,210.9 321.4,210.0 321.6,210.2 321.7,209.4 321.8,208.8 322.0,207.6 322.1,206.6 322.2,206.1 322.4,204.5 322.5,204.2 322.6,203.3 322.8,202.2 322.9,201.9 323.0,200.8 323.1,200.2 323.3,199.2 323.4,198.4 323.5,197.6 323.7,197.1 323.8,196.7 323.9,195.9 324.1,195.0 324.2,194.1 324.3,192.6 324.4,192.7 324.6,191.0 324.7,190.0 324.8,189.6 325.0,189.1 325.1,187.8 325.2,187.4 325.4,186.1 325.5,186.1 325.6,184.7 325.8,183.9 325.9,183.2 326.0,182.8 326.2,182.1 326.3,180.7 326.4,179.8 326.5,179.2 326.7,177.7 326.8,177.4 326.9,177.0 327.1,176.1 327.2,174.5 327.3,174.6 327.4,173.2 327.5,173.2 327.7,171.6 327.8,170.6 327.9,170.2 328.0,169.8 328.1,168.5 328.2,168.2 328.3,167.2 328.4,166.0 328.6,165.1 328.7,164.5 328.8,163.6 328.9,162.8 329.0,162.3 329.1,161.7 329.2,160.6 329.3,159.3 329.5,158.5 329.6,157.9 329.7,157.4 329.8,156.0 329.9,155.1 330.0,154.6 330.1,153.8 330.2,152.7 330.4,152.5 330.5,152.1 330.6,150.8 330.7,150.3 330.9,149.6 331.1,148.7 331.3,148.0 331.5,146.6 331.7,146.1 331.9,144.5 332.0,144.6 332.2,143.2 332.4,142.5 332.6,142.1 332.8,140.6 333.0,139.6 333.3,139.6 333.6,138.5 333.9,137.1 334.2,136.2 334.5,135.8 334.8,134.6 335.1,134.8 335.4,133.2 335.7,132.5 336.0,131.9 336.6,131.3 337.2,130.6 337.8,130.1 338.3,129.5 338.9,128.5 339.5,127.4 340.2,128.0 341.0,127.2 341.7,126.0 342.5,125.9 343.2,125.8 344.0,125.7 344.7,124.1 345.6,124.2 346.5,125.0 347.4,125.1 348.0,126.3 348.5,126.8 349.1,126.8 349.7,127.5 350.3,128.3 350.9,129.3 351.4,129.0 352.0,129.9 352.6,130.1 353.1,131.4 353.7,131.3 354.3,133.1 354.9,133.2 355.5,133.9 356.0,134.0 356.6,134.8" fill="none" stroke="#8a10ff" stroke-width="2.4" stroke-linejoin="round"/>
</g>
<line x1="267.5" y1="1.5" x2="267.5" y2="242.6" stroke="#151515" stroke-width="1.25"/>
<line x1="388.6" y1="1.5" x2="388.6" y2="242.6" stroke="#151515" stroke-width="1.15"/>
<line x1="266.9" y1="2.1" x2="389.2" y2="2.1" stroke="#151515" stroke-width="1.3"/>
<line x1="266.9" y1="242" x2="389.2" y2="242" stroke="#151515" stroke-width="1.3"/>
<line x1="266.9" y1="119.2" x2="389.2" y2="119.2" stroke="#2a2a2a" stroke-width="1.7"/>
<line x1="264" y1="104.6" x2="267.4" y2="104.6" stroke="#151515" stroke-width="1"/>
<text x="261.5" y="108.5" text-anchor="end" class="t">750</text>
<line x1="264" y1="77.3" x2="267.4" y2="77.3" stroke="#151515" stroke-width="1"/>
<text x="261.5" y="81.2" text-anchor="end" class="t">760</text>
<line x1="264" y1="50.1" x2="267.4" y2="50.1" stroke="#151515" stroke-width="1"/>
<text x="261.5" y="54.0" text-anchor="end" class="t">770</text>
<line x1="264" y1="22.8" x2="267.4" y2="22.8" stroke="#151515" stroke-width="1"/>
<text x="261.5" y="26.7" text-anchor="end" class="t">780</text>
<line x1="265.5" y1="91.0" x2="267.4" y2="91.0" stroke="#151515" stroke-width="1"/>
<line x1="265.5" y1="63.7" x2="267.4" y2="63.7" stroke="#151515" stroke-width="1"/>
<line x1="265.5" y1="36.4" x2="267.4" y2="36.4" stroke="#151515" stroke-width="1"/>
<line x1="265.5" y1="9.2" x2="267.4" y2="9.2" stroke="#151515" stroke-width="1"/>
<line x1="389" y1="18.9" x2="392.5" y2="18.9" stroke="#151515" stroke-width="1"/>
<text x="395.2" y="22.8" class="t">1.0</text>
<line x1="389" y1="39.8" x2="392.5" y2="39.8" stroke="#151515" stroke-width="1"/>
<text x="395.2" y="43.6" class="t">0.5</text>
<line x1="389" y1="60.6" x2="392.5" y2="60.6" stroke="#151515" stroke-width="1"/>
<text x="395.2" y="64.5" class="t">0.0</text>
<line x1="389" y1="81.5" x2="392.5" y2="81.5" stroke="#151515" stroke-width="1"/>
<text x="395.2" y="85.4" class="t">-0.5</text>
<line x1="389" y1="102.3" x2="392.5" y2="102.3" stroke="#151515" stroke-width="1"/>
<text x="395.2" y="106.2" class="t">-1.0</text>
<line x1="389" y1="8.5" x2="391" y2="8.5" stroke="#151515" stroke-width="1"/>
<line x1="389" y1="29.3" x2="391" y2="29.3" stroke="#151515" stroke-width="1"/>
<line x1="389" y1="50.2" x2="391" y2="50.2" stroke="#151515" stroke-width="1"/>
<line x1="389" y1="71.0" x2="391" y2="71.0" stroke="#151515" stroke-width="1"/>
<line x1="389" y1="91.9" x2="391" y2="91.9" stroke="#151515" stroke-width="1"/>
<line x1="389" y1="112.7" x2="391" y2="112.7" stroke="#151515" stroke-width="1"/>
<line x1="279.3" y1="119" x2="279.3" y2="122" stroke="#151515" stroke-width="1"/>
<line x1="291.4" y1="119" x2="291.4" y2="122" stroke="#151515" stroke-width="1"/>
<line x1="303.5" y1="119" x2="303.5" y2="122" stroke="#151515" stroke-width="1"/>
<line x1="315.6" y1="119" x2="315.6" y2="122" stroke="#151515" stroke-width="1"/>
<line x1="327.7" y1="119" x2="327.7" y2="122" stroke="#151515" stroke-width="1"/>
<line x1="339.8" y1="119" x2="339.8" y2="122" stroke="#151515" stroke-width="1"/>
<line x1="351.9" y1="119" x2="351.9" y2="122" stroke="#151515" stroke-width="1"/>
<line x1="364.0" y1="119" x2="364.0" y2="122" stroke="#151515" stroke-width="1"/>
<line x1="376.1" y1="119" x2="376.1" y2="122" stroke="#151515" stroke-width="1"/>
<line x1="264" y1="120.6" x2="267.4" y2="120.6" stroke="#151515" stroke-width="1"/>
<text x="261.5" y="124.5" text-anchor="end" class="t">40</text>
<line x1="264" y1="150.5" x2="267.4" y2="150.5" stroke="#151515" stroke-width="1"/>
<text x="261.5" y="154.4" text-anchor="end" class="t">20</text>
<line x1="264" y1="180.4" x2="267.4" y2="180.4" stroke="#151515" stroke-width="1"/>
<text x="261.5" y="184.3" text-anchor="end" class="t">0</text>
<line x1="264" y1="210.3" x2="267.4" y2="210.3" stroke="#151515" stroke-width="1"/>
<text x="261.5" y="214.2" text-anchor="end" class="t">-20</text>
<line x1="264" y1="240.2" x2="267.4" y2="240.2" stroke="#151515" stroke-width="1"/>
<text x="261.5" y="244.1" text-anchor="end" class="t">-40</text>
<line x1="265.5" y1="135.6" x2="267.4" y2="135.6" stroke="#151515" stroke-width="1"/>
<line x1="265.5" y1="165.5" x2="267.4" y2="165.5" stroke="#151515" stroke-width="1"/>
<line x1="265.5" y1="195.3" x2="267.4" y2="195.3" stroke="#151515" stroke-width="1"/>
<line x1="265.5" y1="225.2" x2="267.4" y2="225.2" stroke="#151515" stroke-width="1"/>
<line x1="279.3" y1="242" x2="279.3" y2="245.3" stroke="#151515" stroke-width="1"/>
<text x="279.3" y="258.3" text-anchor="middle" class="t">-40</text>
<line x1="303.5" y1="242" x2="303.5" y2="245.3" stroke="#151515" stroke-width="1"/>
<text x="303.5" y="258.3" text-anchor="middle" class="t">-20</text>
<line x1="327.7" y1="242" x2="327.7" y2="245.3" stroke="#151515" stroke-width="1"/>
<text x="327.7" y="258.3" text-anchor="middle" class="t">0</text>
<line x1="351.9" y1="242" x2="351.9" y2="245.3" stroke="#151515" stroke-width="1"/>
<text x="351.9" y="258.3" text-anchor="middle" class="t">20</text>
<line x1="376.1" y1="242" x2="376.1" y2="245.3" stroke="#151515" stroke-width="1"/>
<text x="376.1" y="258.3" text-anchor="middle" class="t">40</text>
<text x="311.4" y="278.5" class="t i">V<tspan style="font-style:normal"> (meV)</tspan></text>
<text x="273.3" y="13.8" style="font-size:12px" class="i">F<tspan style="font-style:normal">= 0.3</tspan></text>
<text transform="translate(240,69.7) rotate(-90)" text-anchor="middle" class="t">d<tspan class="i">V</tspan>/d<tspan class="i">I</tspan> (Ω)</text>
<text transform="translate(426.3,57.2) rotate(-90)" text-anchor="middle" class="t" style="font-size:11.6px">d<tspan class="i">R</tspan><tspan style="font-size:8px" dy="2.5">pc</tspan><tspan dy="-2.5">/d</tspan><tspan class="i">V</tspan> (kΩ.V<tspan style="font-size:8px" dy="-4">-1</tspan><tspan dy="4">)</tspan></text>
<text transform="translate(240.6,181.9) rotate(-90)" text-anchor="middle" class="t" style="font-size:11.4px">(<tspan class="i">ρ</tspan>/<tspan class="i">R</tspan><tspan style="font-size:8px" dy="2.5">pc</tspan><tspan dy="-2.5">)d</tspan><tspan class="i">R</tspan><tspan style="font-size:8px" dy="2.5">pc</tspan><tspan dy="-2.5">/d</tspan><tspan class="i">V</tspan> (μΩ.m.V<tspan style="font-size:8px" dy="-4">-1</tspan><tspan dy="4">)</tspan></text>
<text x="357" y="175.5" class="t i">R<tspan style="font-style:normal;font-size:8px" dy="2.5">pc</tspan></text>
<line x1="338" y1="187.8" x2="350.5" y2="187.8" stroke="#8a10ff" stroke-width="0.8" opacity="0.7"/>
<circle cx="344.3" cy="187.8" r="1.3" fill="#8a10ff"/>
<text x="354.2" y="191.8" class="t">938 Ω</text>
<line x1="338" y1="203.2" x2="350.5" y2="203.2" stroke="#ff6a10" stroke-width="0.8" opacity="0.7"/>
<circle cx="344.3" cy="203.2" r="1.3" fill="#ff6a10"/>
<text x="354.2" y="207.2" class="t">775 Ω</text>
<line x1="338" y1="218.6" x2="350.5" y2="218.6" stroke="#3a9a10" stroke-width="0.8" opacity="0.7"/>
<circle cx="344.3" cy="218.6" r="1.3" fill="#3a9a10"/>
<text x="354.2" y="222.6" class="t">750 Ω</text>
<line x1="338" y1="234.0" x2="350.5" y2="234.0" stroke="#2a6ac0" stroke-width="0.8" opacity="0.7"/>
<circle cx="344.3" cy="234.0" r="1.3" fill="#2a6ac0"/>
<text x="354.2" y="238.0" class="t">680 Ω</text>
<text x="443.3" y="8.1" style="font-size:12px">(c)</text>
<defs><clipPath id="cc"><rect x="482" y="2" width="197.5" height="239.3"/></clipPath></defs>
<g clip-path="url(#cc)">
<path d="M497.4,225.5 C498.9,225.1 498.7,225.0 502.0,224.3 C505.3,223.6 504.4,223.4 507.4,223.5 C510.4,223.6 508.5,223.7 511.0,224.5 C513.5,225.3 512.2,226.0 514.9,226.0 C517.6,226.0 515.7,225.7 519.0,224.6 C522.3,223.5 521.5,223.7 524.8,222.8 C528.1,221.9 525.7,222.3 529.0,222.0 C532.3,221.7 531.2,222.5 534.8,221.8 C538.4,221.1 536.6,221.1 539.7,219.8 C542.8,218.5 541.5,219.0 544.0,217.8 C546.5,216.6 545.2,217.5 547.2,216.1 C549.2,214.7 548.3,215.6 550.0,213.5 C551.7,211.4 550.5,212.7 552.2,209.9 C553.9,207.1 553.3,208.3 555.0,205.0 C556.7,201.7 555.6,203.9 557.2,199.9 C558.8,195.9 557.7,199.8 559.8,193.0 C561.9,186.2 561.2,187.9 563.4,179.6 C565.6,171.3 564.5,175.7 566.5,168.0 C568.5,160.3 567.3,164.3 569.3,156.6 C571.3,148.9 570.7,151.4 572.4,145.0 C574.1,138.6 572.8,142.2 574.5,137.5 C576.2,132.8 575.5,134.8 577.5,131.0 C579.5,127.2 578.8,129.4 580.6,126.2 C582.4,123.0 581.7,124.7 583.0,121.5 C584.3,118.3 583.5,120.7 584.6,116.5 C585.7,112.3 585.2,113.8 586.2,109.0 C587.2,104.2 586.6,106.7 587.6,102.0 C588.6,97.3 588.3,99.4 589.2,95.0 C590.1,90.6 589.3,93.9 590.4,88.9 C591.5,83.9 591.2,85.4 592.4,80.0 C593.6,74.6 592.7,78.2 594.0,72.8 C595.3,67.4 594.7,69.8 596.3,63.9 C597.9,58.0 597.6,59.6 598.9,55.0 C600.2,50.4 599.3,53.2 600.3,50.0 C601.3,46.8 600.6,48.4 602.0,45.3 C603.4,42.2 602.7,43.7 604.5,40.8 C606.3,37.9 605.3,39.3 607.5,36.5 C609.7,33.7 608.5,35.0 611.0,32.5 C613.5,30.0 612.3,31.0 615.0,29.0 C617.7,27.0 616.2,28.0 619.0,26.5 C621.8,25.0 620.0,25.9 623.5,24.6 C627.0,23.3 625.6,23.4 629.4,22.6 C633.2,21.8 631.5,22.3 635.0,22.3 C638.5,22.3 636.5,22.2 640.0,22.6 C643.5,23.0 642.5,23.4 645.5,23.4 C648.5,23.4 646.6,23.1 649.0,22.5 C651.4,21.9 649.6,22.3 652.6,21.6 C655.6,20.9 654.4,21.1 658.0,20.3 C661.6,19.5 661.5,19.6 663.3,19.3" fill="none" stroke="#9e1c1c" stroke-width="2.9" stroke-linejoin="round" stroke-linecap="round"/>
<path d="M497.8,169.5 C503.7,169.1 503.7,169.1 515.6,168.3 C527.5,167.5 524.0,167.9 533.4,167.0 C542.8,166.1 537.4,166.7 543.9,165.5 C550.4,164.3 547.5,165.7 552.8,163.3 C558.1,160.9 555.7,162.4 559.9,158.4 C564.1,154.4 562.6,155.7 565.3,151.2 C568.0,146.7 566.2,149.1 568.0,145.0 C569.8,140.9 569.0,142.9 570.8,138.9 C572.6,134.9 571.6,136.7 573.5,133.0 C575.4,129.3 574.1,132.3 576.5,127.8 C578.9,123.3 578.3,124.9 580.8,119.6 C583.3,114.3 581.7,116.9 584.0,112.0 C586.3,107.1 585.4,109.4 587.7,105.0 C590.0,100.6 588.3,103.2 590.8,98.7 C593.3,94.2 592.0,96.3 595.3,91.6 C598.6,86.9 597.0,88.4 600.6,84.5 C604.2,80.6 602.9,82.5 606.0,80.0 C609.1,77.5 607.2,78.8 610.0,77.0 C612.8,75.2 610.0,75.7 614.5,74.6 C619.0,73.5 618.2,74.0 623.4,73.7 C628.6,73.4 625.1,73.6 630.0,73.7 C634.9,73.8 633.2,74.0 638.2,74.0 C643.2,74.0 639.8,73.9 645.0,73.8 C650.2,73.7 647.7,73.9 653.9,73.6 C660.1,73.3 660.4,73.2 663.7,73.0" fill="none" stroke="#f2714a" stroke-width="2.9" stroke-linejoin="round" stroke-linecap="round"/>
<path d="M514.7,154.6 C518.0,154.2 517.7,154.2 524.5,153.5 C531.3,152.8 528.5,153.4 535.0,152.6 C541.5,151.8 538.0,152.5 543.9,151.2 C549.8,149.9 548.3,150.7 552.8,148.6 C557.3,146.5 554.3,148.2 557.3,145.0 C560.3,141.8 559.3,142.8 561.9,139.0 C564.5,135.2 562.9,136.6 565.0,133.5 C567.1,130.4 566.0,132.6 568.2,129.8 C570.4,127.0 568.8,127.5 571.7,125.0 C574.6,122.5 572.5,124.4 577.0,122.3 C581.5,120.2 580.2,121.7 585.3,118.7 C590.4,115.7 588.7,116.3 592.4,113.4 C596.1,110.5 594.4,112.3 596.5,110.0 C598.6,107.7 597.3,109.2 598.6,106.5 C599.9,103.8 599.0,105.0 600.3,102.0 C601.6,99.0 599.9,100.4 602.4,97.5 C604.9,94.6 603.5,95.4 607.7,93.4 C611.9,91.4 610.7,92.8 614.9,91.6 C619.1,90.4 616.9,90.8 620.2,89.8 C623.5,88.8 621.9,89.1 624.7,88.5 C627.5,87.9 624.0,88.8 628.5,88.1 C633.0,87.4 632.0,87.2 638.2,86.3 C644.4,85.4 644.1,85.6 647.0,85.3" fill="none" stroke="#efe8c6" stroke-width="2.9" stroke-linejoin="round" stroke-linecap="round"/>
<path d="M497.8,138.5 C500.9,138.2 501.1,137.9 507.0,137.6 C512.9,137.3 510.3,137.4 515.6,137.5 C520.9,137.6 517.7,137.7 523.0,138.0 C528.3,138.3 525.9,138.7 531.6,138.4 C537.3,138.1 535.5,138.0 540.0,137.2 C544.5,136.4 540.4,137.1 545.0,136.1 C549.6,135.1 548.0,136.3 553.9,134.2 C559.8,132.1 556.9,132.4 562.8,129.8 C568.7,127.2 566.3,128.3 571.7,126.3 C577.1,124.3 573.3,126.2 579.0,123.8 C584.7,121.4 582.0,122.0 588.8,119.0 C595.6,116.0 590.8,118.2 599.5,114.7 C608.2,111.2 606.6,111.9 615.0,108.5 C623.4,105.1 617.1,107.5 624.8,104.5 C632.5,101.5 629.2,102.0 638.2,99.5 C647.2,97.0 644.0,98.1 651.9,97.1 C659.8,96.1 655.5,96.8 662.0,96.5 C668.5,96.2 668.3,96.2 671.5,96.1" fill="none" stroke="#7aabd5" stroke-width="2.9" stroke-linejoin="round" stroke-linecap="round"/>
<path d="M532.8,123.7 C536.9,123.6 537.6,123.8 545.0,123.5 C552.4,123.2 547.3,123.3 555.0,122.8 C562.7,122.3 559.1,122.5 568.0,121.9 C576.9,121.3 572.7,121.4 581.7,120.9 C590.7,120.4 587.2,120.7 595.0,120.4 C602.8,120.1 598.3,120.4 605.0,120.1 C611.7,119.8 607.4,119.8 615.0,119.5 C622.6,119.2 623.5,119.2 627.7,119.1" fill="none" stroke="#1d3c70" stroke-width="2.9" stroke-linejoin="round" stroke-linecap="round"/>
</g>
<line x1="482.1" y1="1.1" x2="482.1" y2="246.6" stroke="#2a2a2a" stroke-width="1.6"/>
<line x1="679.4" y1="1.1" x2="679.4" y2="246.6" stroke="#151515" stroke-width="1.2"/>
<line x1="481.3" y1="1.7" x2="680" y2="1.7" stroke="#151515" stroke-width="1.3"/>
<line x1="481.3" y1="241.4" x2="680" y2="241.4" stroke="#151515" stroke-width="1.3"/>
<line x1="477" y1="7.5" x2="482" y2="7.5" stroke="#151515" stroke-width="1"/>
<text x="473" y="11.4" text-anchor="end" class="tc">40</text>
<line x1="477" y1="64.5" x2="482" y2="64.5" stroke="#151515" stroke-width="1"/>
<text x="473" y="68.4" text-anchor="end" class="tc">20</text>
<line x1="477" y1="121.5" x2="482" y2="121.5" stroke="#151515" stroke-width="1"/>
<text x="473" y="125.4" text-anchor="end" class="tc">0</text>
<line x1="477" y1="178.5" x2="482" y2="178.5" stroke="#151515" stroke-width="1"/>
<text x="473" y="182.4" text-anchor="end" class="tc">-20</text>
<line x1="477" y1="235.5" x2="482" y2="235.5" stroke="#151515" stroke-width="1"/>
<text x="473" y="239.4" text-anchor="end" class="tc">-40</text>
<line x1="479.2" y1="36.0" x2="482" y2="36.0" stroke="#151515" stroke-width="1"/>
<line x1="479.2" y1="93.0" x2="482" y2="93.0" stroke="#151515" stroke-width="1"/>
<line x1="479.2" y1="150.0" x2="482" y2="150.0" stroke="#151515" stroke-width="1"/>
<line x1="479.2" y1="207.0" x2="482" y2="207.0" stroke="#151515" stroke-width="1"/>
<text x="482.2" y="259.3" text-anchor="middle" class="tc">-60</text>
<line x1="498.6" y1="241.4" x2="498.6" y2="243.8" stroke="#151515" stroke-width="1.05"/>
<line x1="515.1" y1="241.4" x2="515.1" y2="246.6" stroke="#151515" stroke-width="1.05"/>
<text x="515.1" y="259.3" text-anchor="middle" class="tc">-40</text>
<line x1="531.5" y1="241.4" x2="531.5" y2="243.8" stroke="#151515" stroke-width="1.05"/>
<line x1="547.9" y1="241.4" x2="547.9" y2="246.6" stroke="#151515" stroke-width="1.05"/>
<text x="547.9" y="259.3" text-anchor="middle" class="tc">-20</text>
<line x1="564.4" y1="241.4" x2="564.4" y2="243.8" stroke="#151515" stroke-width="1.05"/>
<line x1="580.8" y1="241.4" x2="580.8" y2="246.6" stroke="#151515" stroke-width="1.05"/>
<text x="580.8" y="259.3" text-anchor="middle" class="tc">0</text>
<line x1="597.2" y1="241.4" x2="597.2" y2="243.8" stroke="#151515" stroke-width="1.05"/>
<line x1="613.7" y1="241.4" x2="613.7" y2="246.6" stroke="#151515" stroke-width="1.05"/>
<text x="613.7" y="259.3" text-anchor="middle" class="tc">20</text>
<line x1="630.1" y1="241.4" x2="630.1" y2="243.8" stroke="#151515" stroke-width="1.05"/>
<line x1="646.5" y1="241.4" x2="646.5" y2="246.6" stroke="#151515" stroke-width="1.05"/>
<text x="646.5" y="259.3" text-anchor="middle" class="tc">40</text>
<line x1="663.0" y1="241.4" x2="663.0" y2="243.8" stroke="#151515" stroke-width="1.05"/>
<text x="679.4" y="259.3" text-anchor="middle" class="tc">60</text>
<text x="545.3" y="278.6" class="t i">V<tspan style="font-style:normal"> (meV)</tspan></text>
<text transform="translate(451.6,121.6) rotate(-90)" text-anchor="middle" class="t" style="font-size:11.4px">(<tspan class="i">ρ</tspan>/<tspan class="i">R</tspan><tspan style="font-size:8px" dy="2.5">pc</tspan><tspan dy="-2.5">)d</tspan><tspan class="i">R</tspan><tspan style="font-size:8px" dy="2.5">pc</tspan><tspan dy="-2.5">/d</tspan><tspan class="i">V</tspan> (μΩ.m.V<tspan style="font-size:8px" dy="-4">-1</tspan><tspan dy="4">)</tspan></text>
<text x="536" y="14" class="t i">F</text>
<line x1="499.2" y1="27.0" x2="528.2" y2="27.0" stroke="#9e1c1c" stroke-width="0.9" opacity="0.6"/>
<circle cx="513.7" cy="27.0" r="1.6" fill="#9e1c1c"/>
<text x="531.6" y="31.3" class="lc">0.7</text>
<line x1="499.2" y1="42.8" x2="528.2" y2="42.8" stroke="#f2714a" stroke-width="0.9" opacity="0.6"/>
<circle cx="513.7" cy="42.8" r="1.6" fill="#f2714a"/>
<text x="531.6" y="47.1" class="lc">0.2</text>
<line x1="499.2" y1="58.6" x2="528.2" y2="58.6" stroke="#efe8c6" stroke-width="0.9" opacity="0.6"/>
<circle cx="513.7" cy="58.6" r="1.6" fill="#efe8c6"/>
<text x="531.6" y="62.9" class="lc">0.14</text>
<line x1="499.2" y1="74.4" x2="528.2" y2="74.4" stroke="#7aabd5" stroke-width="0.9" opacity="0.6"/>
<circle cx="513.7" cy="74.4" r="1.6" fill="#7aabd5"/>
<text x="531.6" y="78.7" class="lc">0.06</text>
<line x1="499.2" y1="90.2" x2="528.2" y2="90.2" stroke="#1d3c70" stroke-width="0.9" opacity="0.6"/>
<circle cx="513.7" cy="90.2" r="1.6" fill="#1d3c70"/>
<text x="531.6" y="94.5" class="lc">0</text>
</svg></body></html>
